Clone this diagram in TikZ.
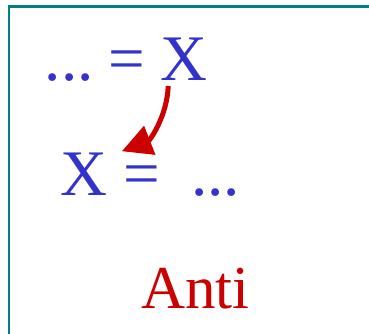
\documentclass[tikz,border=0pt]{standalone}
\usepackage{fontspec}
\setmainfont{Liberation Serif}
\usepackage{tikz}
\usetikzlibrary{arrows.meta,positioning,calc}
\definecolor{eqblue}{RGB}{51,51,204}
\definecolor{antired}{RGB}{204,0,0}
\definecolor{frameteal}{RGB}{0,128,128}

\begin{document}
\begin{tikzpicture}[x=1pt,y=-1pt,
  sym/.style={inner sep=0pt,anchor=base,text=eqblue,
              font=\fontsize{65}{78}\selectfont},
  lbl/.style={inner sep=0pt,anchor=base,text=antired,
              font=\fontsize{61}{73}\selectfont},
  ar/.style={-{Triangle[length=30pt,width=30pt]},antired,line width=5pt}]
\useasboundingbox (0,0) rectangle (369,333);
\draw[frameteal,line width=2.4pt] (9,340) |- (380,6.3);
% top line
\node[sym] (dotsA) at (69.2,80) {...};
\node[sym] (eqA) at (126.5,80) {=};
\node[sym] (xA) at (184.2,80) {X};
% bottom line
\node[sym] (xB) at (84.2,195) {X};
\node[sym] (eqB) at (141.5,195) {=};
\node[sym] (dotsB) at (215.4,195) {...};
\node[lbl] (anti) at (195.5,308) {Anti};
\draw[ar] ([xshift=-16pt,yshift=-6pt]xA.base) .. controls +(-1,30) and +(28,-11)
      .. ([xshift=14pt,yshift=1pt]xB.north east);
\end{tikzpicture}
\end{document}
